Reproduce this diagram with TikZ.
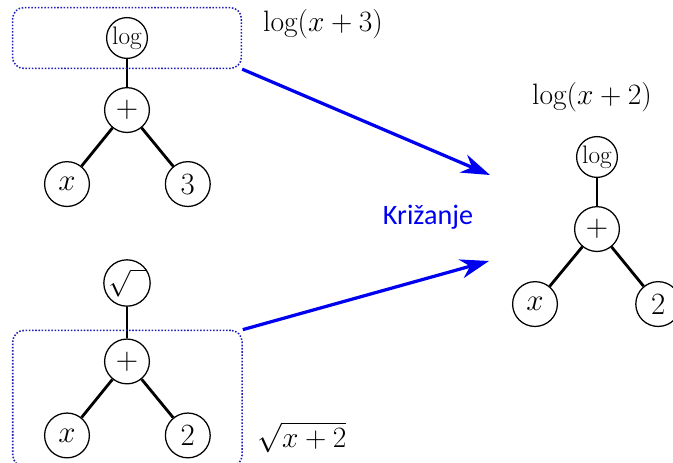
\RequirePackage{fix-cm}
\documentclass[tikz,border=0pt]{standalone}
\usepackage{fontspec}
\newfontfamily\labelfont{Carlito}
\usetikzlibrary{arrows.meta,calc,fit,positioning}
\definecolor{Ink}{HTML}{000000}
\definecolor{CrossBlue}{HTML}{0000F0}
\definecolor{BoxBlue}{HTML}{1E1EB4}
\tikzset{
  opnode/.style={
    circle, draw=Ink, line width=0.9pt, fill=white,
    minimum size=1.12cm, inner sep=0pt, font=\fontsize{22}{26}\selectfont
  },
  funnode/.style={
    opnode, minimum size=1.02cm, font=\fontsize{18}{21}\selectfont
  },
  edge/.style={line width=2pt, draw=Ink},
  subtree/.style={
    draw=BoxBlue, line width=1.1pt, dash pattern=on 1.1pt off 1.2pt, rounded corners=8pt
  },
  cross/.style={-{Stealth[length=7.2mm,width=4.8mm,inset=2.3mm]}, line width=2.3pt, draw=CrossBlue},
  exprlabel/.style={font=\fontsize{21}{25}\selectfont}
}
\begin{document}
\begin{tikzpicture}
    \useasboundingbox (0,0) rectangle (16.825,11.575);
    % first parent: log(x+3)
    \node[funnode] (topLog) at (3.175,10.625) {$\log$};
    \node[opnode,below=0.7cm of topLog] (topPlus) {$+$};
    \node[opnode] (topX) at ([shift={(-1.5,-1.85)}]topPlus) {$x$};
    \node[opnode] (topThree) at ([shift={(1.52,-1.85)}]topPlus) {$3$};
    \draw[edge] (topLog)--(topPlus);
    \draw[edge] (topPlus)--(topX);
    \draw[edge] (topPlus)--(topThree);
    \node[exprlabel] (topExpr) at (8.075,10.975) {$\log(x+3)$};
    % second parent: sqrt(x+2)
    \node[funnode,font=\fontsize{19}{23}\selectfont] (botSqrt) at (3.175,4.5) {$\sqrt{\phantom{x}}$};
    \node[opnode,below=0.79cm of botSqrt] (botPlus) {$+$};
    \node[opnode] (botX) at ([shift={(-1.5,-1.85)}]botPlus) {$x$};
    \node[opnode] (botTwo) at ([shift={(1.52,-1.85)}]botPlus) {$2$};
    \draw[edge] (botSqrt)--(botPlus);
    \draw[edge] (botPlus)--(botX);
    \draw[edge] (botPlus)--(botTwo);
    \node[exprlabel] (botExpr) at (7.55,0.65) {$\sqrt{x+2}$};
    % child: log(x+2)
    \node[funnode] (resLog) at (14.925,7.65) {$\log$};
    \node[opnode,below=0.7cm of resLog] (resPlus) {$+$};
    \node[opnode] (resX) at ([shift={(-1.55,-1.875)}]resPlus) {$x$};
    \node[opnode] (resTwo) at ([shift={(1.53,-1.875)}]resPlus) {$2$};
    \draw[edge] (resLog)--(resPlus);
    \draw[edge] (resPlus)--(resX);
    \draw[edge] (resPlus)--(resTwo);
    \node[exprlabel] (resExpr) at (14.8,9.15) {$\log(x+2)$};
    % swapped subtrees
    \node[subtree,fit=(topLog),minimum width=5.72cm,minimum height=1.52cm,inner sep=0pt] (topBox) {};
    \node[subtree,fit=(botPlus)(botX)(botTwo),inner xsep=0.78cm,inner ysep=0.2cm] (botBox) {};
    \coordinate (tipA) at (12.25,7.2);
    \coordinate (tipB) at (12.225,5.05);
    \draw[cross] (topBox.south east)--(tipA);
    \draw[cross] (botBox.north east)--(tipB);
    \node[text=CrossBlue,font=\labelfont\fontsize{20}{24}\selectfont] (crossLabel) at (10.7,6.15) {Križanje};
  \end{tikzpicture}
\end{document}
